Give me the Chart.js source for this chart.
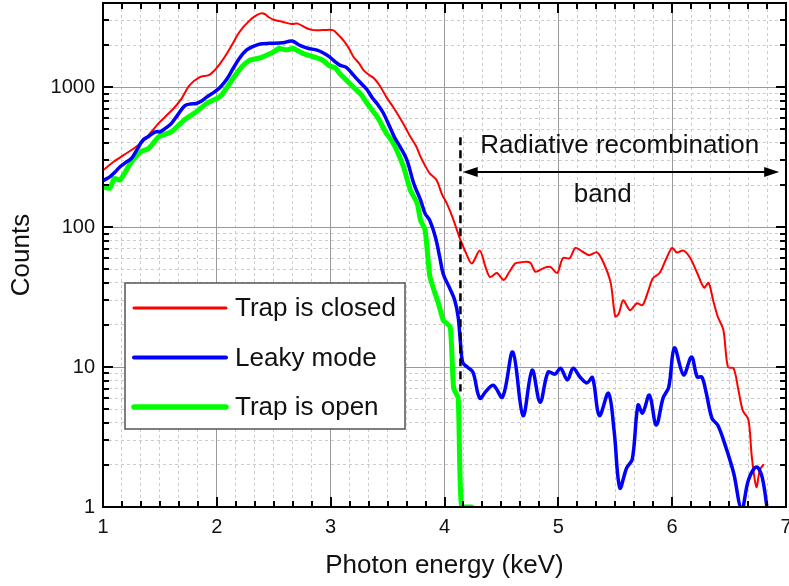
<!DOCTYPE html>
<html>
<head>
<meta charset="utf-8">
<title>Counts vs photon energy</title>
<script src="https://cdn.jsdelivr.net/npm/chart.js@4.4.1/dist/chart.umd.min.js"></script>
<style>
  html, body { margin: 0; padding: 0; background: #fff; }
  #wrap { width: 789px; height: 586px; }
</style>
</head>
<body>
<div id="wrap"><canvas id="spectrumChart" width="789" height="586"></canvas></div>
<script>
// =================================================================
// DATA
// =================================================================
const seriesNames = ['Trap is closed', 'Leaky mode', 'Trap is open'];

// Trap is closed (red)
const closedX = [1.00, 1.09, 1.18, 1.27, 1.35, 1.40, 1.50, 1.56, 1.62, 1.69, 1.76, 1.85, 1.93, 1.98,
    2.03, 2.09, 2.14, 2.18, 2.23, 2.28, 2.32, 2.38, 2.42, 2.46, 2.50, 2.58, 2.66, 2.71, 2.79, 2.85,
    2.93, 3.02, 3.06, 3.11, 3.16, 3.20, 3.25, 3.29, 3.34, 3.38, 3.43, 3.49, 3.55, 3.61, 3.66, 3.70,
    3.75, 3.79, 3.83, 3.87, 3.93, 3.98, 4.02, 4.07, 4.14, 4.19, 4.24, 4.31, 4.36, 4.40, 4.46, 4.52,
    4.57, 4.62, 4.66, 4.75, 4.80, 4.87, 4.93, 4.99, 5.04, 5.10, 5.15, 5.21, 5.27, 5.34, 5.40, 5.46,
    5.50, 5.53, 5.57, 5.63, 5.69, 5.74, 5.79, 5.83, 5.89, 5.95, 6.00, 6.04, 6.10, 6.16, 6.22, 6.28,
    6.32, 6.36, 6.40, 6.45, 6.49, 6.54, 6.58, 6.62, 6.67, 6.70, 6.74, 6.77, 6.80];
const closedCounts = [255, 292, 327, 365, 410, 454, 565, 630, 705, 830, 1030, 1180, 1220, 1320,
    1480, 1750, 2050, 2350, 2680, 2950, 3160, 3360, 3340, 3150, 3040, 2930, 2830, 2850, 2640, 2560,
    2560, 2560, 2400, 2170, 1900, 1650, 1480, 1320, 1220, 1160, 1030, 850, 720, 600, 510, 442,
    380, 318, 275, 242, 217, 170, 148, 118, 81, 65, 55, 68, 52, 44, 47, 42,
    48, 55, 56, 56, 48, 51, 52, 47, 60, 60, 71, 67, 63, 66, 55, 40,
    23, 24, 30, 25.5, 28.6, 27.7, 35, 43, 47, 60, 71, 66, 68, 60, 47, 37,
    40, 30, 23, 18.4, 10, 9.8, 7, 4.9, 4.2, 2.27, 1.39, 1.84, 2.0];

// Leaky mode (blue)
const leakyX = [1.00, 1.06, 1.10, 1.15, 1.20, 1.25, 1.30, 1.35, 1.40, 1.46, 1.50, 1.55, 1.60, 1.66, 1.72,
    1.77, 1.82, 1.87, 1.91, 1.98, 2.03, 2.09, 2.14, 2.20, 2.26, 2.32, 2.38, 2.47, 2.58, 2.66, 2.73,
    2.80, 2.88, 2.94, 2.99, 3.04, 3.08, 3.14, 3.20, 3.26, 3.32, 3.37, 3.41, 3.46, 3.52, 3.56, 3.61,
    3.67, 3.73, 3.79, 3.83, 3.87, 3.92, 3.96, 3.99, 4.05, 4.09, 4.12, 4.14, 4.16, 4.20, 4.25, 4.31,
    4.37, 4.43, 4.51, 4.60, 4.69, 4.77, 4.84, 4.91, 4.97, 5.02, 5.08, 5.13, 5.19, 5.25, 5.30, 5.36,
    5.44, 5.49, 5.54, 5.60, 5.65, 5.70, 5.74, 5.80, 5.86, 5.92, 5.97, 6.02, 6.10, 6.17, 6.22, 6.26,
    6.30, 6.35, 6.40, 6.46, 6.54, 6.61, 6.67, 6.74, 6.79, 6.84];
const leakyCounts = [215, 229, 245, 270, 290, 310, 360, 418, 445, 480, 480, 510, 550, 640, 740,
    760, 765, 800, 850, 927, 1000, 1150, 1350, 1620, 1840, 1960, 2040, 2060, 2080, 2140, 1990,
    1900, 1840, 1750, 1650, 1520, 1440, 1380, 1220, 1080, 960, 830, 760, 660, 520, 440, 375,
    301, 205, 156, 125, 112, 85, 60, 46, 36, 30, 22.8, 15, 10.8, 10, 9.2, 6.0,
    6.8, 7.4, 6.1, 12.8, 4.5, 9.5, 5.6, 9.2, 8.9, 9.8, 8.1, 9.8, 8.5, 7.7, 8.4, 4.5,
    6.5, 3.5, 1.37, 1.9, 2.2, 5.35, 4.7, 6.3, 3.85, 6.0, 7.2, 13.7, 8.8, 11.8, 8.5, 8.5,
    6.5, 4.3, 3.85, 2.86, 1.75, 0.95, 1.56, 1.93, 1.64, 0.9];

// Trap is open (green)
const openX = [1.00, 1.06, 1.10, 1.15, 1.24, 1.33, 1.40, 1.49, 1.60, 1.71, 1.82, 1.91, 2.03, 2.09,
    2.14, 2.22, 2.29, 2.38, 2.47, 2.55, 2.61, 2.67, 2.76, 2.85, 2.93, 2.99, 3.04, 3.08, 3.14, 3.20,
    3.23, 3.27, 3.32, 3.41, 3.49, 3.54, 3.58, 3.64, 3.70, 3.76, 3.79, 3.83, 3.87, 3.91, 3.95, 3.99,
    4.05, 4.08, 4.12, 4.15, 4.24];
const openCounts = [194, 190, 223, 217, 285, 345, 365, 442, 480, 580, 667, 765, 860, 1000,
    1150, 1400, 1560, 1620, 1740, 1890, 1850, 1890, 1740, 1650, 1560, 1420, 1380, 1250, 1120, 1000,
    950, 880, 765, 613, 467, 410, 355, 270, 184, 148, 112, 95, 45, 35, 28, 21.6,
    19.3, 7.1, 6.0, 1.0, 1.0];

// tick labels
const xTickLabels = [1, 2, 3, 4, 5, 6, 7];
const yTickLabels = [1, 10, 100, 1000];

// =================================================================
// HELPERS
// =================================================================
const xMin = 1, xMax = 7, yMin = 1, yMax = 4000;
const xMinorSteps = 6;

const xGridValues = [];
for (let i = 0; i <= (xMax - xMin) * xMinorSteps; i++) {
    xGridValues.push(xMin + i / xMinorSteps);
}
const yGridValues = [];
yTickLabels.forEach(decade => {
    for (let m = 1; m <= 9; m++) {
        if (decade * m <= yMax) yGridValues.push(decade * m);
    }
});

function isMajorX(v) {
    return xTickLabels.some(t => Math.abs(t - v) < 1e-6);
}
function isMajorY(v) {
    return yTickLabels.some(t => Math.abs(t - v) < 1e-6);
}
function toPoints(xs, ys) {
    return xs.map((x, i) => ({ x: x, y: ys[i] }));
}
// keep the plot box fixed: no extra room for the end labels
function noEdgePadding(s) {
    s.paddingLeft = 0;
    s.paddingRight = 0;
    s.paddingTop = 0;
    s.paddingBottom = 0;
}

const fontFamily = "'Liberation Sans', Arial, sans-serif";

// =================================================================
// PLUGINS
// =================================================================
// Frame with inward ticks on all four sides
const frameTicks = {
    id: 'frameTicks',
    afterDatasetsDraw(chart) {
        const { ctx, chartArea: a, scales: { x, y } } = chart;
        ctx.save();
        ctx.strokeStyle = '#000';
        ctx.lineWidth = 2;
        ctx.beginPath();
        x.ticks.forEach(t => {
            const px = Math.round(x.getPixelForValue(t.value));
            const len = isMajorX(t.value) ? 10 : 6;
            ctx.moveTo(px, a.bottom); ctx.lineTo(px, a.bottom - len);
            ctx.moveTo(px, a.top); ctx.lineTo(px, a.top + len);
        });
        y.ticks.forEach(t => {
            const py = Math.round(y.getPixelForValue(t.value));
            const len = isMajorY(t.value) ? 10 : 6;
            ctx.moveTo(a.left, py); ctx.lineTo(a.left + len, py);
            ctx.moveTo(a.right, py); ctx.lineTo(a.right - len, py);
        });
        ctx.stroke();
        ctx.strokeRect(a.left, a.top, a.right - a.left, a.bottom - a.top);
        ctx.restore();
    }
};

// Dashed marker, double arrow and band label
const bandNote = {
    id: 'bandNote',
    afterDatasetsDraw(chart) {
        const { ctx, scales: { x, y } } = chart;
        ctx.save();

        // dashed vertical line
        const lx = x.getPixelForValue(4.14);
        ctx.strokeStyle = '#000';
        ctx.lineWidth = 2.5;
        ctx.setLineDash([8, 5]);
        ctx.beginPath();
        ctx.moveTo(lx, y.getPixelForValue(440));
        ctx.lineTo(lx, y.getPixelForValue(6.7));
        ctx.stroke();
        ctx.setLineDash([]);

        // double arrow
        const ay = y.getPixelForValue(248);
        const x1 = x.getPixelForValue(4.16);
        const x2 = x.getPixelForValue(6.94);
        const head = 15, half = 5;
        ctx.lineWidth = 2;
        ctx.beginPath();
        ctx.moveTo(x1 + head - 2, ay);
        ctx.lineTo(x2 - head + 2, ay);
        ctx.stroke();
        ctx.fillStyle = '#000';
        ctx.beginPath();
        ctx.moveTo(x1, ay); ctx.lineTo(x1 + head, ay - half); ctx.lineTo(x1 + head, ay + half);
        ctx.closePath();
        ctx.moveTo(x2, ay); ctx.lineTo(x2 - head, ay - half); ctx.lineTo(x2 - head, ay + half);
        ctx.closePath();
        ctx.fill();

        // text
        ctx.font = '26px ' + fontFamily;
        ctx.fillStyle = '#111';
        ctx.textAlign = 'center';
        ctx.textBaseline = 'alphabetic';
        ctx.fillText('Radiative recombination', x.getPixelForValue(5.54), y.getPixelForValue(338));
        ctx.fillText('band', x.getPixelForValue(5.39), y.getPixelForValue(152));
        ctx.restore();
    }
};

// Boxed legend inside the plot
const boxLegend = {
    id: 'boxLegend',
    afterDraw(chart) {
        const { ctx, chartArea: a } = chart;
        const left = a.left + 22, top = a.top + 280, w = 280, h = 146;
        ctx.save();
        ctx.fillStyle = '#fff';
        ctx.fillRect(left, top, w, h);
        ctx.strokeStyle = '#555';
        ctx.lineWidth = 1.5;
        ctx.strokeRect(left, top, w, h);
        ctx.font = '26px ' + fontFamily;
        ctx.textBaseline = 'middle';
        ctx.textAlign = 'left';
        chart.data.datasets.forEach((ds, i) => {
            const rowY = top + 25 + i * 49.5;
            ctx.strokeStyle = ds.borderColor;
            ctx.lineWidth = ds.legendWidth;
            ctx.lineCap = 'round';
            ctx.beginPath();
            ctx.moveTo(left + 9, rowY);
            ctx.lineTo(left + 101, rowY);
            ctx.stroke();
            ctx.fillStyle = '#111';
            ctx.fillText(ds.label, left + 110, rowY + 1);
        });
        ctx.restore();
    }
};

// =================================================================
// CHART
// =================================================================
Chart.defaults.font.family = fontFamily;
Chart.defaults.color = '#111';

const chartCanvas = document.getElementById('spectrumChart');
new Chart(chartCanvas.getContext('2d'), {
    type: 'line',
    data: {
        datasets: [
            {
                label: seriesNames[0],
                data: toPoints(closedX, closedCounts),
                borderColor: '#ff0000',
                borderWidth: 2,
                legendWidth: 3,
                tension: 0.3,
                order: 1
            },
            {
                label: seriesNames[1],
                data: toPoints(leakyX, leakyCounts),
                borderColor: '#0000ff',
                borderWidth: 3.5,
                legendWidth: 4,
                tension: 0.35,
                order: 0
            },
            {
                label: seriesNames[2],
                data: toPoints(openX, openCounts),
                borderColor: '#00ff00',
                borderWidth: 5,
                legendWidth: 5.5,
                tension: 0.2,
                order: 2
            }
        ]
    },
    options: {
        responsive: false,
        animation: false,
        devicePixelRatio: 1,
        layout: { padding: { left: 0, top: 3, right: 3, bottom: 0 } },
        elements: {
            point: { radius: 0 },
            line: { fill: false, borderJoinStyle: 'round', borderCapStyle: 'round' }
        },
        plugins: {
            legend: { display: false },
            tooltip: { enabled: false }
        },
        scales: {
            x: {
                type: 'linear',
                min: xMin,
                max: xMax,
                afterBuildTicks: s => { s.ticks = xGridValues.map(v => ({ value: v })); },
                afterFit: s => { s.height = 79; noEdgePadding(s); },
                ticks: {
                    autoSkip: false,
                    maxRotation: 0,
                    padding: 8,
                    font: { size: 20 },
                    callback: v => isMajorX(v) ? String(Math.round(v)) : ''
                },
                grid: {
                    drawTicks: false,
                    lineWidth: 1,
                    color: c => (c.tick && isMajorX(c.tick.value)) ? '#9a9a9a' : '#cccccc'
                },
                border: {
                    display: false,
                    dash: c => (c.tick && !isMajorX(c.tick.value)) ? [3, 3] : []
                },
                title: {
                    display: true,
                    text: 'Photon energy (keV)',
                    font: { size: 26 },
                    padding: { top: 0, bottom: 5 }
                }
            },
            y: {
                type: 'logarithmic',
                min: yMin,
                max: yMax,
                afterBuildTicks: s => { s.ticks = yGridValues.map(v => ({ value: v })); },
                afterFit: s => { s.width = 103; noEdgePadding(s); },
                ticks: {
                    autoSkip: false,
                    padding: 8,
                    font: { size: 20 },
                    callback: v => isMajorY(v) ? String(v) : ''
                },
                grid: {
                    drawTicks: false,
                    lineWidth: 1,
                    color: c => (c.tick && isMajorY(c.tick.value)) ? '#9a9a9a' : '#cccccc'
                },
                border: {
                    display: false,
                    dash: c => (c.tick && !isMajorY(c.tick.value)) ? [3, 3] : []
                },
                title: {
                    display: true,
                    text: 'Counts',
                    font: { size: 26 },
                    padding: { top: 6, bottom: 0 }
                }
            }
        }
    },
    plugins: [frameTicks, bandNote, boxLegend]
});
</script>
</body>
</html>
